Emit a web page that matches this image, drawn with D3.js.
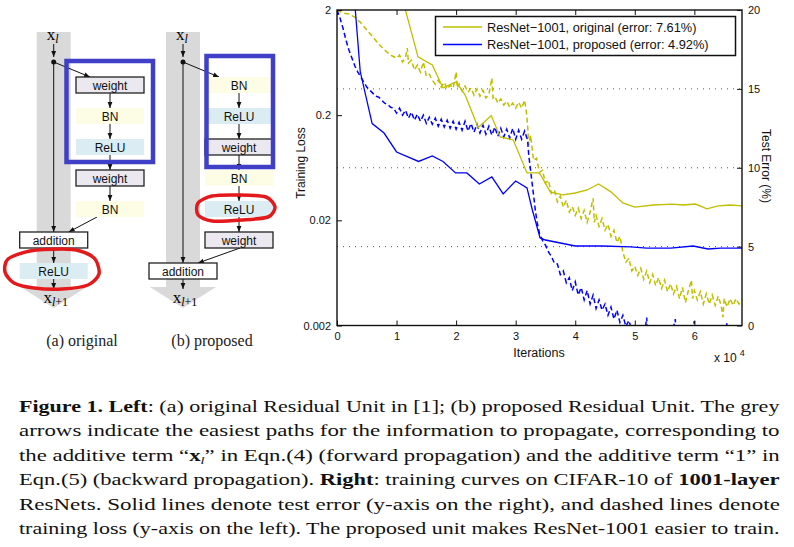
<!DOCTYPE html>
<html><head><meta charset="utf-8">
<script src="https://cdn.jsdelivr.net/npm/d3@7"></script>
<style>body{margin:0;background:#fff}svg{display:block}</style>
</head><body><svg id="c" width="794" height="547"></svg>
<script>
// ---------------- DATA ----------------
const iterTicks = [0,1,2,3,4,5,6];
const iterTickLabels = ["0","1","2","3","4","5","6"];
const lossTicks = [0.002,0.02,0.2,2];
const lossTickLabels = ["0.002","0.02","0.2","2"];
const errTicks = [0,5,10,15,20];
const seriesNames = ["ResNet\u22121001, original (error: 7.61%)","ResNet\u22121001, proposed (error: 4.92%)"];
const seriesColors = ["#bfbf00","#0000ff"];

// test error (%) vs iterations (x1e4)
const errOriginal = [[1.0,22.1],[1.36,17.03],[1.6,16.52],[1.78,15.06],[2.0,15.44],[2.15,14.62],[2.37,12.55],[2.59,13.31],[2.74,11.95],[2.96,11.76],[3.19,9.67],[3.4,9.67],[3.58,8.47],[3.79,8.28],[4.0,8.4],[4.2,8.59],[4.39,8.97],[4.6,8.47],[4.8,7.77],[5.0,7.51],[5.31,7.64],[5.63,7.7],[5.81,7.64],[6.02,7.7],[6.21,7.39],[6.4,7.58],[6.6,7.64],[6.8,7.58]];
const errProposed = [[0.25,22.7],[0.39,16.1],[0.59,12.8],[0.79,12.2],[1.0,11.0],[1.18,10.7],[1.37,10.4],[1.6,10.75],[1.78,10.4],[1.99,9.67],[2.18,9.67],[2.39,8.97],[2.6,9.42],[2.79,8.34],[3.0,9.16],[3.19,8.72],[3.28,7.32],[3.41,5.55],[3.5,5.42],[3.75,5.23],[4.0,5.04],[4.46,5.04],[4.93,4.98],[5.2,4.91],[5.6,4.91],[5.98,5.04],[6.23,4.85],[6.44,4.91],[6.8,4.91]];

// training loss vs iterations (x1e4)
const lossOriginal = [[0,2.0],[0.1,1.87],[0.2,1.83],[0.3,1.71],[0.4,1.51],[0.5,1.29],[0.6,1.11],[0.7,0.95],[0.8,0.832],[0.9,0.745],[1.0,0.698],[1.05,0.745],[1.1,0.64],[1.15,0.71],[1.18,0.87],[1.2,0.626],[1.25,0.668],[1.3,0.537],[1.35,0.6],[1.4,0.514],[1.45,0.64],[1.5,0.47],[1.55,0.49],[1.6,0.431],[1.65,0.394],[1.7,0.431],[1.75,0.37],[1.8,0.41],[1.85,0.354],[1.9,0.386],[1.95,0.362],[2.0,0.514],[2.02,0.362],[2.05,0.394],[2.1,0.338],[2.15,0.378],[2.2,0.331],[2.25,0.362],[2.3,0.31],[2.35,0.354],[2.4,0.303],[2.45,0.346],[2.5,0.291],[2.55,0.317],[2.6,0.45],[2.62,0.291],[2.65,0.303],[2.7,0.26],[2.75,0.285],[2.8,0.249],[2.85,0.272],[2.9,0.238],[2.95,0.26],[3.0,0.233],[3.05,0.266],[3.1,0.233],[3.15,0.278],[3.18,0.213],[3.2,0.161],[3.22,0.104],[3.25,0.129],[3.3,0.0745],[3.35,0.078],[3.4,0.0573],[3.45,0.06],[3.5,0.045],[3.55,0.048],[3.6,0.0361],[3.65,0.0386],[3.7,0.03],[3.75,0.034],[3.8,0.0266],[3.85,0.031],[3.9,0.024],[3.95,0.027],[4.0,0.0223],[4.05,0.026],[4.1,0.0208],[4.15,0.0249],[4.2,0.0191],[4.25,0.024],[4.3,0.0324],[4.32,0.0191],[4.35,0.0223],[4.4,0.0175],[4.45,0.0208],[4.5,0.0161],[4.55,0.0183],[4.6,0.0141],[4.65,0.0161],[4.7,0.0123],[4.75,0.0141],[4.8,0.01],[4.85,0.008],[4.9,0.0087],[4.95,0.0066],[5.0,0.0073],[5.05,0.006],[5.1,0.007],[5.15,0.0055],[5.2,0.0066],[5.25,0.0051],[5.3,0.0061],[5.35,0.0048],[5.4,0.0057],[5.45,0.0045],[5.5,0.0054],[5.55,0.0042],[5.6,0.005],[5.65,0.004],[5.7,0.0047],[5.75,0.0036],[5.8,0.0046],[5.85,0.0033],[5.9,0.0043],[5.95,0.0054],[5.97,0.0036],[6.0,0.0043],[6.05,0.0035],[6.1,0.0042],[6.15,0.0032],[6.2,0.004],[6.25,0.0032],[6.3,0.0039],[6.35,0.0031],[6.4,0.0038],[6.45,0.0031],[6.48,0.0024],[6.5,0.0036],[6.55,0.003],[6.6,0.0036],[6.65,0.0031],[6.7,0.0036],[6.75,0.0032],[6.8,0.0035]];
const lossProposed = [[0,2.0],[0.05,1.68],[0.1,1.35],[0.15,1.04],[0.2,0.832],[0.25,0.698],[0.3,0.586],[0.35,0.514],[0.4,0.46],[0.45,0.412],[0.5,0.37],[0.55,0.346],[0.6,0.324],[0.65,0.303],[0.7,0.297],[0.75,0.278],[0.8,0.26],[0.85,0.254],[0.9,0.238],[0.95,0.233],[1.0,0.209],[1.05,0.233],[1.1,0.2],[1.15,0.223],[1.2,0.187],[1.25,0.214],[1.3,0.179],[1.35,0.204],[1.4,0.175],[1.45,0.2],[1.5,0.167],[1.55,0.191],[1.6,0.164],[1.65,0.187],[1.7,0.157],[1.75,0.183],[1.8,0.154],[1.85,0.179],[1.9,0.15],[1.95,0.175],[2.0,0.147],[2.05,0.171],[2.1,0.144],[2.15,0.175],[2.2,0.141],[2.25,0.167],[2.3,0.138],[2.35,0.164],[2.4,0.135],[2.45,0.161],[2.5,0.132],[2.55,0.157],[2.6,0.129],[2.65,0.154],[2.7,0.126],[2.75,0.15],[2.8,0.124],[2.85,0.147],[2.9,0.121],[2.95,0.15],[3.0,0.118],[3.05,0.144],[3.1,0.118],[3.15,0.141],[3.2,0.116],[3.22,0.083],[3.25,0.06],[3.28,0.0431],[3.3,0.035],[3.33,0.0249],[3.36,0.0191],[3.4,0.015],[3.45,0.0129],[3.5,0.0116],[3.55,0.01],[3.6,0.0091],[3.65,0.0078],[3.7,0.0077],[3.75,0.0061],[3.8,0.0066],[3.85,0.0051],[3.9,0.0057],[3.95,0.0043],[4.0,0.0052],[4.05,0.0039],[4.1,0.0046],[4.15,0.0035],[4.2,0.0043],[4.25,0.0032],[4.3,0.0039],[4.35,0.0029],[4.4,0.0035],[4.45,0.0028],[4.5,0.0032],[4.55,0.0025],[4.6,0.003],[4.65,0.0023],[4.7,0.0028],[4.75,0.00214],[4.8,0.0025],[4.85,0.00196],[4.9,0.00223],[4.95,0.0018],[5.0,0.00205],[5.05,0.0016],[5.1,0.0018],[5.15,0.00146],[5.2,0.00238],[5.22,0.00146],[5.3,0.0013],[5.4,0.00146],[5.5,0.0012],[5.6,0.0014],[5.68,0.0023],[5.7,0.0013],[5.8,0.0012],[5.9,0.0013],[6.0,0.0022],[6.02,0.0012],[6.2,0.0012],[6.4,0.0011],[6.55,0.0021],[6.57,0.0011],[6.8,0.0012]];

// residual unit diagrams
const origBlocks = ["weight","BN","ReLU","weight","BN"];
const origAfter = ["addition","ReLU"];
const propBlocks = ["BN","ReLU","weight","BN","ReLU","weight"];
const propAfter = ["addition"];
const unitCaptions = ["(a) original","(b) proposed"];

// caption (segments: [text, style])
const captionLines = [
  [["Figure 1. Left","b"],[": (a) original Residual Unit in [1]; (b) proposed Residual Unit. The grey",""]],
  [["arrows indicate the easiest paths for the information to propagate, corresponding to",""]],
  [["the additive term \u201c",""],["x","b"],["l","sub"],["\u201d in Eqn.(4) (forward propagation) and the additive term \u201c1\u201d in","up"]],
  [["Eqn.(5) (backward propagation). ",""],["Right","b"],[": training curves on CIFAR-10 of ",""],["1001-layer","b"]],
  [["ResNets. Solid lines denote test error (y-axis on the right), and dashed lines denote",""]],
  [["training loss (y-axis on the left). The proposed unit makes ResNet-1001 easier to train.",""]]
];

// ---------------- DRAW ----------------
const svg = d3.select('#c');
svg.append('rect').attr('width',794).attr('height',547).attr('fill','#fff');
const defs = svg.append('defs');
defs.append('marker').attr('id','arr').attr('viewBox','0 0 10 10').attr('refX',10).attr('refY',5)
  .attr('markerWidth',6).attr('markerHeight',6).attr('markerUnits','userSpaceOnUse').attr('orient','auto')
  .append('path').attr('d','M0,1L10,5L0,9Z').attr('fill','#111');

const slotY = d3.scaleLinear().domain([0,1]).range([77,108]);
const boxH = 16, boxW = 68;
const fills = {weight:'#ebe8ef', BN:'#fdfde6', ReLU:'#dbedf3', addition:'#ffffff'};
const strokes = {weight:'#222', BN:'none', ReLU:'none', addition:'#222'};

const units = [
  {blocks:origBlocks, after:origAfter, bx:53.7, cx:110, mergeDx:-13, blue:[66.5,61,153,162],
   red:[[62,249],[30,251],[8,259],[5,272],[14,283],[34,288],[62,289],[88,285],[99,274],[95,259],[80,251]], capX:82},
  {blocks:propBlocks, after:propAfter, bx:183, cx:239, mergeDx:1, blue:[206.5,56,273,167],
   red:[[240,195],[212,196],[198,203],[198,215],[212,221],[242,220],[268,217],[275,207],[266,197]], capX:212}
];

units.forEach((u,ui)=>{
  const g = svg.append('g');
  const n = u.blocks.length;
  const bottomAfter = slotY(n + u.after.length - 1) + boxH;
  g.append('rect').attr('x',u.bx-17).attr('y',32).attr('width',34).attr('height',287-32).attr('fill','#d9d9d9');
  g.append('path').attr('d',`M${u.bx-33},287L${u.bx+33},287L${u.bx},308Z`).attr('fill','#d9d9d9');
  const t = g.append('text').attr('x',u.bx-1).attr('y',40).attr('text-anchor','middle')
    .style('font-family','Liberation Serif').style('font-size','17px');
  t.append('tspan').text('x');
  t.append('tspan').attr('dy',3).style('font-style','italic').style('font-size','12px').text('l');
  const t2 = g.append('text').attr('x',u.bx+2).attr('y',303).attr('text-anchor','middle')
    .style('font-family','Liberation Serif').style('font-size','17px');
  t2.append('tspan').text('x');
  t2.append('tspan').attr('dy',3).style('font-size','12px').html('<tspan font-style="italic">l</tspan>+1');
  const line = (x1,y1,x2,y2)=> g.append('line').attr('x1',x1).attr('y1',y1).attr('x2',x2).attr('y2',y2)
    .attr('stroke','#111').attr('stroke-width',1).attr('marker-end','url(#arr)');
  line(u.bx,44,u.bx,57);
  line(u.bx,62,u.bx,slotY(n));
  g.append('circle').attr('cx',u.bx).attr('cy',62).attr('r',2.5).attr('fill','#111');
  line(u.bx,62,u.cx-20,slotY(0));
  for(let i=0;i<n-1;i++) line(u.cx,slotY(i)+boxH,u.cx,slotY(i+1));
  line(u.cx+u.mergeDx,slotY(n-1)+boxH,u.bx+15,slotY(n));
  for(let i=0;i<u.after.length-1;i++) line(u.bx,slotY(n+i)+boxH,u.bx,slotY(n+i+1));
  line(u.bx,bottomAfter,u.bx,289);
  const all = u.blocks.map((b,i)=>({b,i,cx:u.cx})).concat(u.after.map((b,i)=>({b,i:n+i,cx:u.bx})));
  const bg = g.selectAll('g.blk').data(all).join('g');
  bg.append('rect').attr('x',d=>d.cx-boxW/2).attr('y',d=>slotY(d.i)).attr('width',boxW).attr('height',boxH)
    .attr('fill',d=>fills[d.b]).attr('stroke',d=>strokes[d.b]).attr('stroke-width',1.3);
  bg.append('text').attr('x',d=>d.cx).attr('y',d=>slotY(d.i)+12.5).attr('text-anchor','middle')
    .style('font-family','Liberation Sans').style('font-size','12px').attr('fill','#111').text(d=>d.b);
  const [x0,y0,x1,y1] = u.blue;
  g.append('rect').attr('x',x0).attr('y',y0).attr('width',x1-x0).attr('height',y1-y0)
    .attr('fill','none').attr('stroke','#3f3fc8').attr('stroke-width',4.5);
  g.append('path').attr('d',d3.line().curve(d3.curveCardinalClosed.tension(0.2))(u.red))
    .attr('fill','none').attr('stroke','#e3191c').attr('stroke-width',3.5);
  g.append('text').attr('x',u.capX).attr('y',346).attr('text-anchor','middle')
    .style('font-family','Liberation Serif').style('font-size','16px').attr('fill','#222').text(unitCaptions[ui]);
});

// ---------------- CHART ----------------
const X0=337, X1=742, Y0=10, Y1=325.5;
const x = d3.scaleLinear().domain([0,6.8]).range([X0,X1]);
const yL = d3.scaleLog().domain([0.002,2]).range([Y1,Y0]);
const yR = d3.scaleLinear().domain([0,20]).range([Y1,Y0]);
defs.append('clipPath').attr('id','pc').append('rect').attr('x',X0).attr('y',Y0).attr('width',X1-X0).attr('height',Y1-Y0);

svg.append('g').selectAll('line').data(errTicks.filter(d=>d>0&&d<20)).join('line')
  .attr('x1',X0).attr('x2',X1).attr('y1',d=>yR(d)).attr('y2',d=>yR(d))
  .attr('stroke','#555').attr('stroke-width',1).attr('stroke-dasharray','1,5');

const plot = svg.append('g').attr('clip-path','url(#pc)');
const lineL = d3.line().x(d=>x(d[0])).y(d=>yL(d[1]));
const lineR = d3.line().x(d=>x(d[0])).y(d=>yR(d[1]));
[[lossOriginal,0],[lossProposed,1]].forEach(([s,i])=>{
  plot.append('path').datum(s).attr('d',lineL).attr('fill','none').attr('stroke',seriesColors[i])
    .attr('stroke-width',1.5).attr('stroke-dasharray','5,3');
});
[[errOriginal,0],[errProposed,1]].forEach(([s,i])=>{
  plot.append('path').datum(s).attr('d',lineR).attr('fill','none').attr('stroke',seriesColors[i])
    .attr('stroke-width',1.3);
});

const axStyle = g=>{ g.select('.domain').remove(); g.selectAll('text').style('font-family','Liberation Sans').style('font-size','11px').attr('fill','#111'); g.selectAll('line').attr('stroke','#111'); };
svg.append('g').attr('transform',`translate(0,${Y1})`).call(d3.axisBottom(x).tickValues(iterTicks).tickFormat((d,i)=>iterTickLabels[i]).tickSize(-5).tickPadding(7)).call(axStyle);
svg.append('g').attr('transform',`translate(0,${Y0})`).call(d3.axisTop(x).tickValues(iterTicks).tickSize(-5).tickFormat('')).call(axStyle);
svg.append('g').attr('transform',`translate(${X0},0)`).call(d3.axisLeft(yL).tickValues(lossTicks).tickFormat((d,i)=>lossTickLabels[i]).tickSize(-5).tickPadding(6)).call(axStyle);
svg.append('g').attr('transform',`translate(${X1},0)`).call(d3.axisRight(yR).tickValues(errTicks).tickSize(-5).tickPadding(6)).call(axStyle);
svg.append('rect').attr('x',X0).attr('y',Y0).attr('width',X1-X0).attr('height',Y1-Y0).attr('fill','none').attr('stroke','#111').attr('stroke-width',1.4);

const lab = (x,y,txt,rot,size)=> svg.append('text').attr('transform',`translate(${x},${y}) rotate(${rot})`).attr('text-anchor','middle')
  .style('font-family','Liberation Sans').style('font-size',size+'px').attr('fill','#111').text(txt);
lab(305,163,'Training Loss',-90,12);
lab(762,166,'Test Error (%)',90,12);
lab(539,357,'Iterations',0,12.5);
const xe = svg.append('text').attr('x',714).attr('y',362).style('font-family','Liberation Sans').style('font-size','12px').attr('fill','#111');
xe.append('tspan').text('x 10');
xe.append('tspan').attr('dy',-6).style('font-size','9px').attr('dx',3).text('4');

const lg = svg.append('g');
lg.append('rect').attr('x',435.5).attr('y',16.5).attr('width',300).attr('height',39).attr('fill','#fff').attr('stroke','#111').attr('stroke-width',1.5);
seriesNames.forEach((nm,i)=>{
  const yy = 27 + i*17.5;
  lg.append('line').attr('x1',443).attr('x2',482).attr('y1',yy).attr('y2',yy).attr('stroke',seriesColors[i]).attr('stroke-width',1.3);
  lg.append('text').attr('x',487).attr('y',yy+4.5).style('font-family','Liberation Sans').style('font-size','12.8px').attr('fill','#111').text(nm);
});

// ---------------- CAPTION (glyphs widened per line to fill the measure) ----------------
const LINE_W = 761;
captionLines.forEach((segs,li)=>{
  const t = svg.append('text').attr('x',0).attr('y',0)
    .style('font-family','Liberation Serif').style('font-size','17.5px').attr('fill','#111');
  segs.forEach(([s,st])=>{
    const ts = t.append('tspan').text(s);
    if(st==='b') ts.style('font-weight','bold');
    if(st==='sub') ts.style('font-size','11px').style('font-style','italic').attr('dy',3);
    if(st==='up') ts.attr('dy',-3);
  });
  const w = t.node().getComputedTextLength();
  const sx = LINE_W / w;
  t.attr('transform',`translate(19,${412+li*24.4}) scale(${sx},1)`);
});
</script></body></html>
